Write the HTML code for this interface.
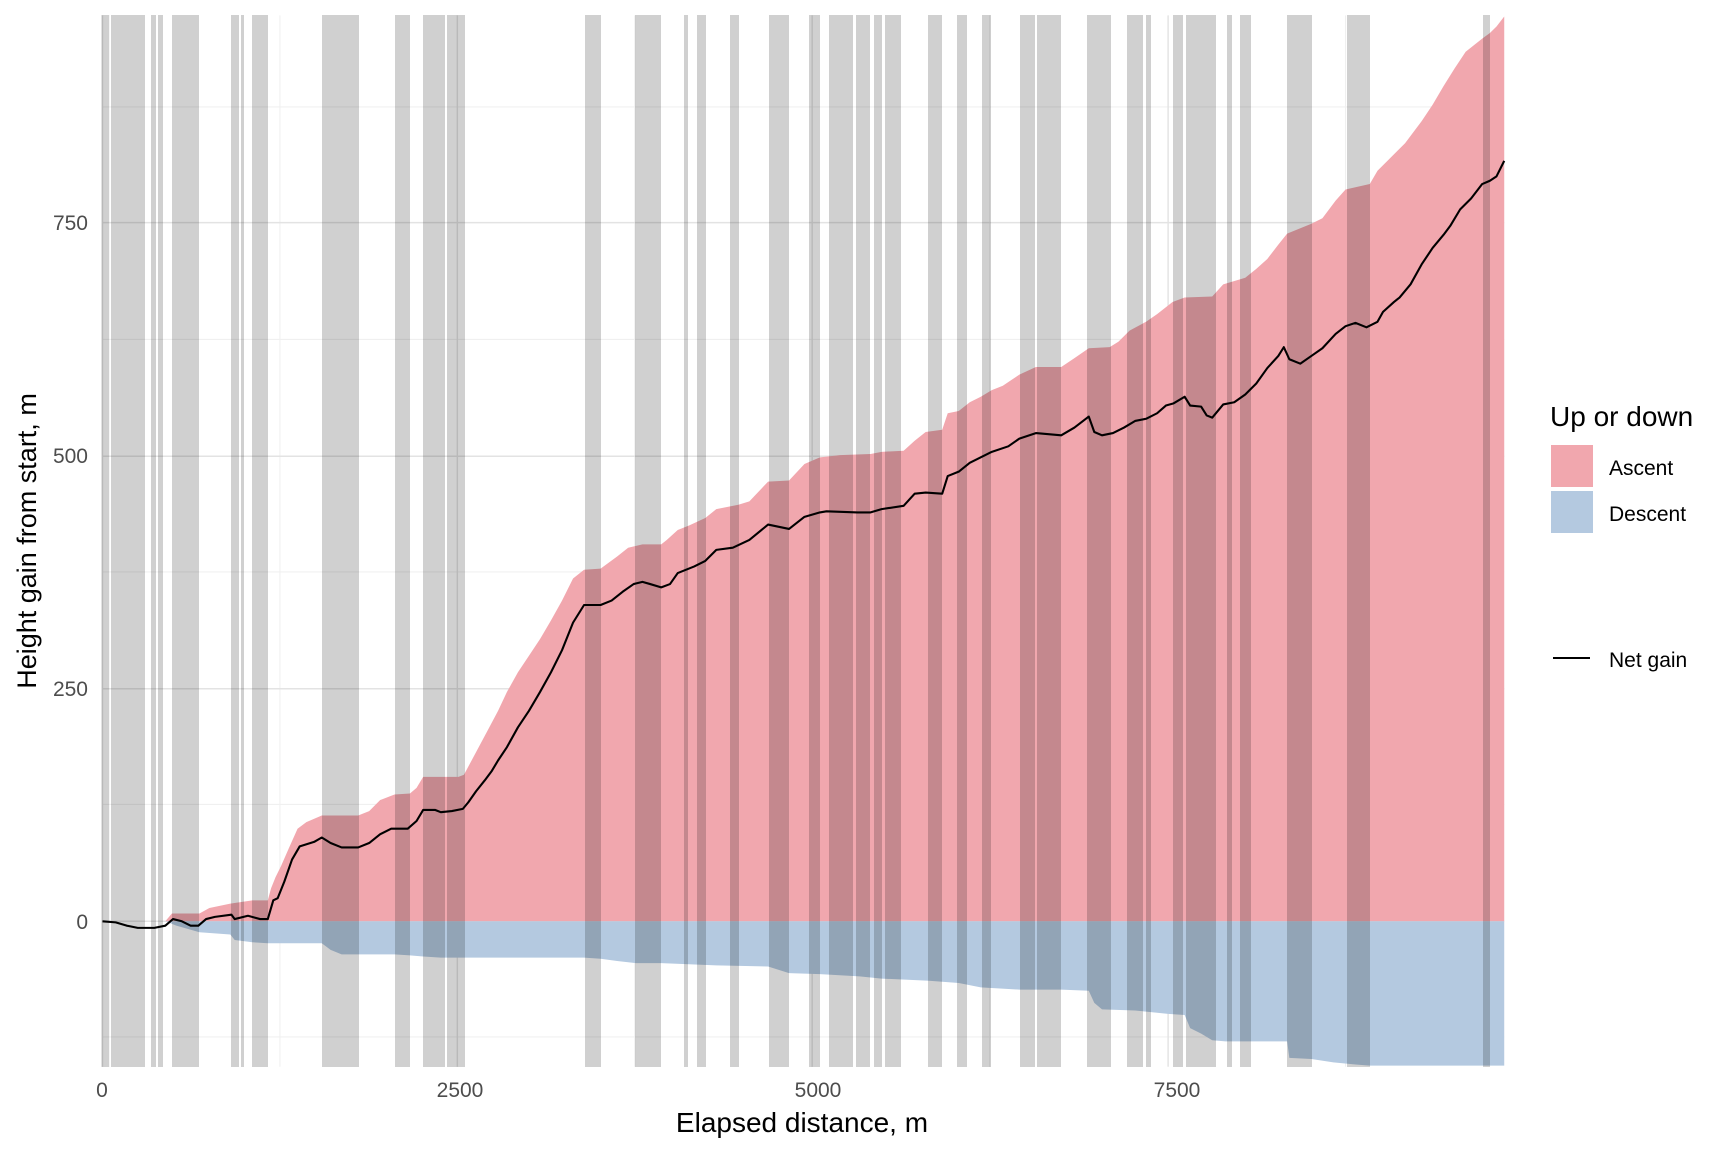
<!DOCTYPE html>
<html><head><meta charset="utf-8"><style>
html,body{margin:0;padding:0;background:#fff;}
svg{display:block;font-family:"Liberation Sans",Arial,sans-serif;}
</style></head><body>
<svg width="1728" height="1152" viewBox="0 0 1728 1152" xmlns="http://www.w3.org/2000/svg">
<rect width="1728" height="1152" fill="#fff"/>
<g transform="scale(1.102)">
  <g stroke="#f0f0f0" stroke-width="1">
    <line x1="93" x2="1365" y1="941" y2="941"/><line x1="93" x2="1365" y1="730" y2="730"/>
    <line x1="93" x2="1365" y1="519" y2="519"/><line x1="93" x2="1365" y1="308" y2="308"/>
    <line x1="93" x2="1365" y1="97" y2="97"/>
    <line x1="254" x2="254" y1="14" y2="968"/><line x1="576" x2="576" y1="14" y2="968"/>
    <line x1="898" x2="898" y1="14" y2="968"/><line x1="1221" x2="1221" y1="14" y2="968"/>
  </g>
  <g stroke="#e3e3e3" stroke-width="1.3">
    <line x1="93" x2="1365" y1="836" y2="836"/><line x1="93" x2="1365" y1="625" y2="625"/>
    <line x1="93" x2="1365" y1="414" y2="414"/><line x1="93" x2="1365" y1="202" y2="202"/>
    <line x1="93" x2="93" y1="14" y2="968"/><line x1="415" x2="415" y1="14" y2="968"/>
    <line x1="737" x2="737" y1="14" y2="968"/><line x1="1060" x2="1060" y1="14" y2="968"/>
  </g>
  <polygon fill="#f1a7ae" points="93,836 150,836 156,829 181,829 190,824 209,820 229,817 243,817 246,806 250,796 255,786 262,770 270,752 278,746 292,740 325,740 335,736 345,726 358,721 372,720 378,715 384,705 416,705 421,703 428,690 436,675 444,660 452,645 460,628 470,610 480,595 490,580 500,563 510,545 520,525 530,517 545,516 560,505 570,497 583,494 600,494 605,490 615,481 625,477 640,470 650,462 670,458 680,455 697,437 716,436 730,421 744,415 762,413 790,412 800,410 820,409 830,400 840,392 855,390 860,375 870,373 880,365 890,360 900,354 910,350 925,340 940,333 963,333 975,325 988,316 1007,315 1015,310 1025,300 1040,292 1050,285 1064,274 1075,270 1100,269 1110,258 1130,252 1140,244 1150,235 1160,222 1168,212 1190,203 1200,198 1212,182 1221,172 1243,167 1250,155 1260,145 1275,130 1290,110 1300,95 1310,78 1320,62 1330,47 1345,35 1352,30 1358,24 1365,15 1365,836"/>
  <polygon fill="#b4c9e0" points="93,836 150,836 160,840 181,846 209,848 213,853 229,855 243,856 292,856 300,862 310,866 325,866 358,866 372,867 384,868 400,869 416,869 530,869 545,870 560,872 577,874 600,874 650,876 697,877 716,883 744,884 780,886 800,888 843,890 870,892 890,896 925,898 963,898 988,899 993,910 1000,916 1030,917 1040,918 1060,920 1075,921 1080,933 1090,938 1100,944 1112,945 1168,945 1170,960 1190,961 1210,964 1230,966 1243,967 1365,967 1365,836"/>
</g>
<g fill="#000" fill-opacity="0.185">
  <rect x="101.5" y="15" width="7.7" height="1052"/>
  <rect x="111" y="15" width="34" height="1052"/>
  <rect x="151" y="15" width="5" height="1052"/>
  <rect x="158" y="15" width="5" height="1052"/>
  <rect x="172" y="15" width="27" height="1052"/>
  <rect x="231" y="15" width="8" height="1052"/>
  <rect x="241" y="15" width="3" height="1052"/>
  <rect x="252" y="15" width="16" height="1052"/>
  <rect x="322" y="15" width="37" height="1052"/>
  <rect x="395" y="15" width="15" height="1052"/>
  <rect x="423" y="15" width="22" height="1052"/>
  <rect x="447" y="15" width="18" height="1052"/>
  <rect x="585" y="15" width="16" height="1052"/>
  <rect x="635" y="15" width="26" height="1052"/>
  <rect x="684" y="15" width="4" height="1052"/>
  <rect x="697" y="15" width="9" height="1052"/>
  <rect x="730" y="15" width="9" height="1052"/>
  <rect x="769" y="15" width="20" height="1052"/>
  <rect x="809" y="15" width="11" height="1052"/>
  <rect x="829" y="15" width="24" height="1052"/>
  <rect x="856" y="15" width="14" height="1052"/>
  <rect x="874" y="15" width="8" height="1052"/>
  <rect x="885" y="15" width="16" height="1052"/>
  <rect x="928" y="15" width="14" height="1052"/>
  <rect x="957" y="15" width="10" height="1052"/>
  <rect x="982" y="15" width="9" height="1052"/>
  <rect x="1020" y="15" width="15" height="1052"/>
  <rect x="1037" y="15" width="24" height="1052"/>
  <rect x="1087" y="15" width="24" height="1052"/>
  <rect x="1127" y="15" width="16" height="1052"/>
  <rect x="1146" y="15" width="5" height="1052"/>
  <rect x="1173" y="15" width="10" height="1052"/>
  <rect x="1186" y="15" width="30" height="1052"/>
  <rect x="1227" y="15" width="5" height="1052"/>
  <rect x="1240" y="15" width="11" height="1052"/>
  <rect x="1287" y="15" width="25" height="1052"/>
  <rect x="1347" y="15" width="23" height="1052"/>
  <rect x="1483" y="15" width="7" height="1052"/>
</g>
<g transform="scale(1.102)">
  <polyline fill="none" stroke="#000" stroke-width="1.9" stroke-linejoin="round" points="93,836 105,837 115,840 125,842 140,842 150,840 157,834 165,836 173,840 180,840 187,834 195,832 210,830 213,834 225,831 236,834 243,834 248,817 252,815 258,800 265,780 272,768 285,764 292,760 300,765 310,769 325,769 335,765 345,757 355,752 370,752 378,745 384,735 395,735 400,737 410,736 420,734 425,728 432,718 440,708 446,700 452,690 460,678 470,660 480,645 490,628 500,610 510,590 520,565 530,549 545,549 555,545 565,537 575,530 583,528 590,530 600,533 608,530 615,520 630,514 640,509 650,499 665,497 680,490 697,476 716,480 730,469 744,465 750,464 778,465 790,465 800,462 820,459 830,448 840,447 855,448 860,432 870,428 880,420 890,415 900,410 915,405 925,398 940,393 963,395 975,388 988,378 993,392 1000,395 1010,393 1020,388 1030,382 1040,380 1050,375 1058,368 1065,366 1075,360 1080,368 1090,369 1095,377 1100,379 1110,367 1120,365 1130,358 1140,348 1150,334 1160,323 1165,315 1170,326 1180,330 1190,323 1200,316 1212,303 1221,296 1230,293 1240,297 1250,292 1255,283 1265,274 1270,270 1280,258 1290,240 1300,225 1310,213 1316,205 1325,190 1335,180 1345,167 1352,164 1358,160 1365,146"/>
</g>
<g fill="#4d4d4d" font-size="21">
  <text x="88" y="929" text-anchor="end">0</text>
  <text x="88" y="696" text-anchor="end">250</text>
  <text x="88" y="463" text-anchor="end">500</text>
  <text x="88" y="230" text-anchor="end">750</text>
  <text x="102" y="1097" text-anchor="middle">0</text>
  <text x="460" y="1097" text-anchor="middle">2500</text>
  <text x="818" y="1097" text-anchor="middle">5000</text>
  <text x="1177" y="1097" text-anchor="middle">7500</text>
</g>
<text x="802" y="1132" font-size="28" text-anchor="middle" fill="#000">Elapsed distance, m</text>
<text transform="translate(36,541) rotate(-90)" font-size="27" text-anchor="middle" fill="#000">Height gain from start, m</text>
<text x="1550" y="426" font-size="28" fill="#000">Up or down</text>
<rect x="1551" y="445" width="42" height="42" fill="#f1a7ae"/>
<rect x="1551" y="491" width="42" height="42" fill="#b4c9e0"/>
<text x="1609" y="475" font-size="21" fill="#000">Ascent</text>
<text x="1609" y="521" font-size="21" fill="#000">Descent</text>
<line x1="1553" x2="1590" y1="658" y2="658" stroke="#000" stroke-width="2"/>
<text x="1609" y="667" font-size="21" fill="#000">Net gain</text>
</svg>
</body></html>
